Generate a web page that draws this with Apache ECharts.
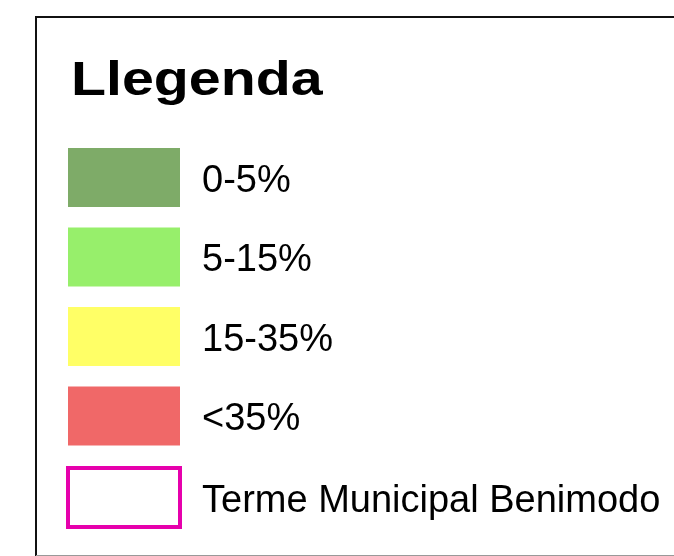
<!DOCTYPE html>
<html>
<head>
<meta charset="utf-8">
<script src="https://cdn.jsdelivr.net/npm/echarts@6/dist/echarts.min.js"></script>
<style>
  html, body { margin: 0; padding: 0; background: #fff; }
  #main { width: 674px; height: 556px; }
</style>
</head>
<body>
<div id="main"></div>
<script>
// legend classes
const classNames = ["0-5%", "5-15%", "15-35%", "<35%", "Terme Municipal Benimodo"];
const classColors = ["#7eab68", "#97ef6b", "#ffff66", "#f06868", "#ffffff"];
const boundaryColor = "#e600ac";

const chart = echarts.init(document.getElementById("main"));

// empty series, only used to feed the legend
const series = classNames.map((name, i) => ({
  type: "scatter",
  name: name,
  data: [],
  itemStyle: { color: classColors[i], opacity: 1 }
}));

const legendData = classNames.map((name, i) => {
  const item = { name: name, itemStyle: { color: classColors[i], borderWidth: 0, opacity: 1 } };
  // last entry is the municipal boundary: outline only
  if (i === classNames.length - 1) {
    item.itemStyle = { color: "#ffffff", borderColor: boundaryColor, borderWidth: 4, opacity: 1 };
  }
  return item;
});

const option = {
  backgroundColor: "#fff",
  animation: false,
  xAxis: { show: false },
  yAxis: { show: false },
  legend: {
    orient: "vertical",
    left: 66,
    top: 148,
    padding: 0,
    icon: "rect",
    itemWidth: 112,
    itemHeight: 59,
    itemGap: 20.5,
    selectedMode: false,
    data: legendData,
    formatter: (name) => "{a|" + name + "}",
    textStyle: {
      fontFamily: "Liberation Sans, Arial, sans-serif",
      fontSize: 38,
      color: "#000",
      rich: {
        a: {
          fontFamily: "Liberation Sans, Arial, sans-serif",
          fontSize: 38,
          color: "#000",
          padding: [8, 0, 0, 17]
        }
      }
    }
  },
  graphic: [
    // frame
    { type: "line", shape: { x1: 35, y1: 17, x2: 674, y2: 17 }, style: { stroke: "#111", lineWidth: 2 } },
    { type: "line", shape: { x1: 36, y1: 16, x2: 36, y2: 556 }, style: { stroke: "#111", lineWidth: 2 } },
    { type: "line", shape: { x1: 36, y1: 555.5, x2: 674, y2: 555.5 }, style: { stroke: "#999", lineWidth: 1 } },
    // title
    {
      type: "text",
      x: 71,
      y: 81,
      scaleX: 1.17,
      style: {
        text: "Llegenda",
        fontFamily: "Liberation Sans, Arial, sans-serif",
        fontWeight: "bold",
        fontSize: 49,
        fill: "#000",
        verticalAlign: "middle",
        align: "left"
      }
    }
  ],
  series: series
};

chart.setOption(option);
</script>
</body>
</html>
